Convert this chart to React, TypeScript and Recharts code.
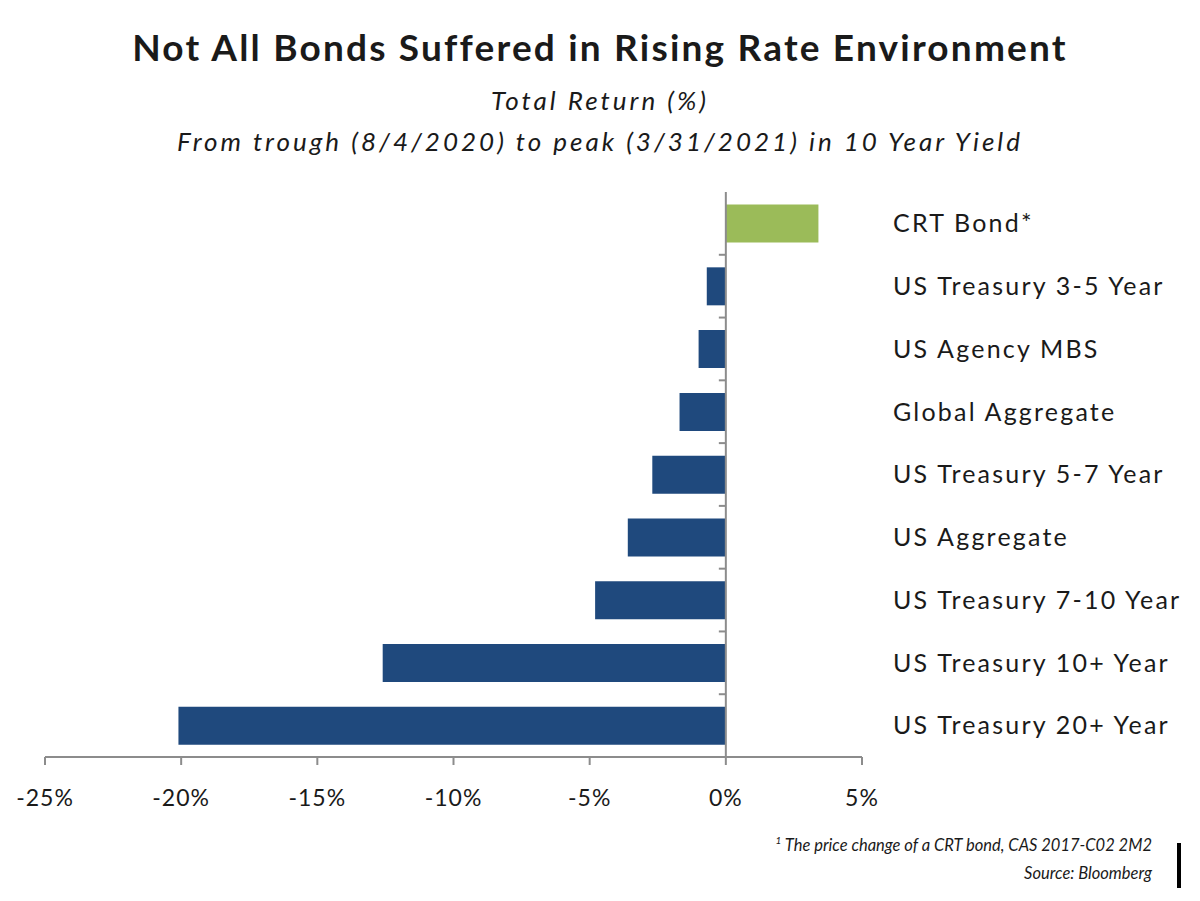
import { Bar, BarChart, Cell, ReferenceLine, XAxis, YAxis } from "recharts";

const categories = [
  "CRT Bond*",
  "US Treasury 3-5 Year",
  "US Agency MBS",
  "Global Aggregate",
  "US Treasury 5-7 Year",
  "US Aggregate",
  "US Treasury 7-10 Year",
  "US Treasury 10+ Year",
  "US Treasury 20+ Year",
];
const totalReturn = [3.4, -0.7, -1.0, -1.7, -2.7, -3.6, -4.8, -12.6, -20.1];
const xTicks = [-25, -20, -15, -10, -5, 0, 5];

const data = categories.map((name, i) => ({ name, value: totalReturn[i] }));

const font = "Lato, 'Open Sans', sans-serif";
const ink = "#1a1a1a";
const axisGray = "#8c8c8c";

// the category axis sits at 0%, with ticks on the band edges pointing left
function ZeroAxis(props: any) {
  const { x1, y1, y2 } = props;
  const band = (y2 - y1) / categories.length;
  return (
    <g>
      <line x1={x1} y1={y1} x2={x1} y2={y2} stroke={axisGray} strokeWidth={2} />
      {categories.map((_, i) => (
        <line
          key={i}
          x1={x1 - 7}
          x2={x1}
          y1={y1 + band * i}
          y2={y1 + band * i}
          stroke={axisGray}
          strokeWidth={2}
        />
      ))}
    </g>
  );
}

export default function App() {
  return (
    <div
      style={{
        position: "absolute",
        top: 0,
        left: 0,
        width: 1200,
        height: 901,
        background: "#fff",
        fontFamily: font,
        color: ink,
      }}
    >
      <div
        style={{
          position: "absolute",
          top: 24,
          width: 1200,
          textAlign: "center",
          fontSize: 37,
          fontWeight: 700,
          letterSpacing: 2.2,
        }}
      >
        Not All Bonds Suffered in Rising Rate Environment
      </div>
      <div
        style={{
          position: "absolute",
          top: 80,
          width: 1200,
          textAlign: "center",
          fontSize: 26,
          fontStyle: "italic",
          letterSpacing: 3,
          lineHeight: "41px",
        }}
      >
        Total Return (%)
        <br />
        From trough (8/4/2020) to peak (3/31/2021) in 10 Year Yield
      </div>

      <BarChart
        width={1200}
        height={901}
        data={data}
        layout="vertical"
        barCategoryGap="20%"
        margin={{ top: 192, right: 0, left: 45, bottom: 84 }}
      >
        <XAxis
          type="number"
          domain={[-25, 5]}
          ticks={xTicks}
          tickFormatter={(v) => `${v}%`}
          height={60}
          stroke={axisGray}
          tickSize={8}
          tickMargin={25}
          tick={{ fill: ink, fontSize: 23, fontFamily: font, letterSpacing: 1 }}
          axisLine={{ stroke: axisGray, strokeWidth: 2 }}
          tickLine={{ stroke: axisGray, strokeWidth: 2 }}
        />
        <YAxis
          type="category"
          dataKey="name"
          orientation="right"
          width={338}
          axisLine={false}
          tickLine={false}
          tickSize={0}
          tickMargin={31}
          interval={0}
          tick={{ fill: ink, fontSize: 25, fontFamily: font, letterSpacing: 2.2 }}
        />
        <Bar dataKey="value" isAnimationActive={false}>
          {data.map((d) => (
            <Cell key={d.name} fill={d.value >= 0 ? "#9bbb59" : "#1f497d"} />
          ))}
        </Bar>
        <ReferenceLine x={0} shape={ZeroAxis} />
      </BarChart>

      <div
        style={{
          position: "absolute",
          top: 826,
          right: 48,
          textAlign: "right",
          fontSize: 16.5,
          fontStyle: "italic",
          lineHeight: "28px",
        }}
      >
        <sup style={{ fontSize: 10 }}>1</sup> The price change of a CRT bond, CAS 2017-C02 2M2
        <br />
        Source: Bloomberg
      </div>
      <div
        style={{
          position: "absolute",
          left: 1177,
          top: 843,
          width: 4,
          height: 45,
          background: "#000",
        }}
      />
    </div>
  );
}
